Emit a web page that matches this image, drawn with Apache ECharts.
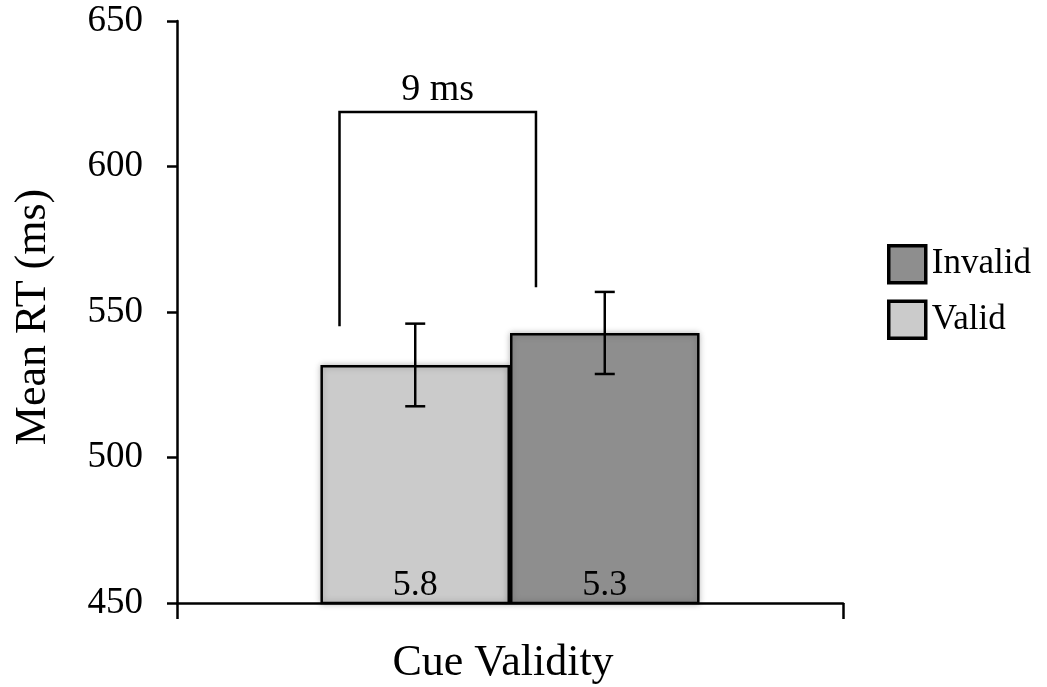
<!DOCTYPE html>
<html>
<head>
<meta charset="utf-8">
<title>Mean RT by Cue Validity</title>
<script src="https://cdn.jsdelivr.net/npm/echarts@6/dist/echarts.min.js"></script>
<style>
  html, body { margin: 0; padding: 0; background: #fff; }
  #chart { width: 1047px; height: 687px; }
</style>
</head>
<body>
<div id="chart"></div>
<script>
// Data
const categories = ['Cue Validity'];
const seriesNames = ['Valid', 'Invalid'];
const meanRT = [531.8, 542.8];        // mean reaction time (ms)
const stdError = [14.2, 14.1];        // error bar half-length (ms)
const errorRates = ['5.8', '5.3'];    // printed at the foot of each bar
const yTicks = [450, 500, 550, 600, 650];
// comparison bracket: left leg bottom, top, right leg bottom (ms)
const bracket = [545.1, 618.7, 558.5];
const bracketLabel = '9 ms';

const FONT = '"Liberation Serif", "Times New Roman", serif';
const BAR_FRAC = 0.2846;              // bar width as a fraction of the category band
const colors = { Valid: '#cbcbcb', Invalid: '#8e8e8e' };

const chart = echarts.init(document.getElementById('chart'), null, { renderer: 'canvas' });

function barSeries(i) {
  const name = seriesNames[i];
  return {
    name: name,
    type: 'bar',
    data: [meanRT[i]],
    barWidth: (BAR_FRAC * 100) + '%',
    barGap: '0%',
    itemStyle: {
      color: colors[name],
      borderColor: '#000',
      borderWidth: 2.5,
      shadowColor: 'rgba(0,0,0,0.25)',
      shadowBlur: 6
    },
    label: {
      show: true,
      position: 'insideBottom',
      distance: 1,
      formatter: () => errorRates[i],
      fontFamily: FONT,
      fontSize: 36,
      color: '#000'
    },
    z: 2
  };
}

function errorSeries(i) {
  const side = i === 0 ? -0.5 : 0.5;
  return {
    type: 'custom',
    name: seriesNames[i] + ' error',
    data: [[0, meanRT[i], stdError[i]]],
    encode: { x: 0, y: 1 },
    z: 5,
    renderItem: function (params, api) {
      const band = api.size([1, 0])[0];
      const cx = api.coord([api.value(0), api.value(1)])[0] + side * BAR_FRAC * band;
      const hi = api.coord([api.value(0), api.value(1) + api.value(2)])[1];
      const lo = api.coord([api.value(0), api.value(1) - api.value(2)])[1];
      const cap = 10;
      const style = { stroke: '#000', lineWidth: 2.5, fill: null };
      return {
        type: 'group',
        children: [
          { type: 'line', shape: { x1: cx, y1: hi, x2: cx, y2: lo }, style: style },
          { type: 'line', shape: { x1: cx - cap, y1: hi, x2: cx + cap, y2: hi }, style: style },
          { type: 'line', shape: { x1: cx - cap, y1: lo, x2: cx + cap, y2: lo }, style: style }
        ]
      };
    }
  };
}

const bracketSeries = {
  type: 'custom',
  name: 'bracket',
  data: [[0, bracket[0], bracket[1], bracket[2]]],
  encode: { x: 0, y: [1, 2, 3] },
  z: 5,
  renderItem: function (params, api) {
    const band = api.size([1, 0])[0];
    const c = api.coord([api.value(0), api.value(2)]);
    const xl = c[0] - 0.256 * band;
    const xr = c[0] + 0.039 * band;
    const yTop = c[1];
    const yl = api.coord([api.value(0), api.value(1)])[1];
    const yr = api.coord([api.value(0), api.value(3)])[1];
    return {
      type: 'group',
      children: [
        {
          type: 'polyline',
          shape: { points: [[xl, yl], [xl, yTop], [xr, yTop], [xr, yr]] },
          style: { stroke: '#000', lineWidth: 2.5, fill: null }
        },
        {
          type: 'text',
          style: {
            text: bracketLabel,
            x: (xl + xr) / 2,
            y: yTop - 3,
            align: 'center',
            verticalAlign: 'bottom',
            font: '38px ' + FONT,
            fill: '#000'
          }
        }
      ]
    };
  }
};

const option = {
  backgroundColor: '#fff',
  animation: false,
  grid: { left: 177, right: 204, top: 21, bottom: 84, containLabel: false, outerBoundsMode: 'none' },
  legend: {
    data: ['Invalid', 'Valid'],
    orient: 'vertical',
    left: 882,
    top: 239,
    itemWidth: 37,
    itemHeight: 37,
    itemGap: 15,
    icon: 'rect',
    itemStyle: { borderColor: '#000', borderWidth: 3.5 },
    textStyle: { fontFamily: FONT, fontSize: 35, color: '#000', padding: [0, 0, 0, 1] }
  },
  xAxis: {
    type: 'category',
    data: categories,
    axisLine: { lineStyle: { color: '#000', width: 2.5 } },
    axisTick: { show: true, length: 16, lineStyle: { color: '#000', width: 2.5 } },
    axisLabel: { fontFamily: FONT, fontSize: 44, color: '#000', margin: 38, padding: [0, 14, 0, 0] }
  },
  yAxis: {
    type: 'value',
    min: yTicks[0],
    max: yTicks[yTicks.length - 1],
    interval: yTicks[1] - yTicks[0],
    name: 'Mean RT (ms)',
    nameLocation: 'middle',
    nameGap: 122,
    nameTextStyle: { fontFamily: FONT, fontSize: 44, color: '#000', padding: [0, 10, 0, 0] },
    axisLine: { show: true, lineStyle: { color: '#000', width: 2.5 } },
    axisTick: { show: true, length: 10, lineStyle: { color: '#000', width: 2.5 } },
    axisLabel: { fontFamily: FONT, fontSize: 37, color: '#000', margin: 34 },
    splitLine: { show: false }
  },
  series: [barSeries(0), barSeries(1), errorSeries(0), errorSeries(1), bracketSeries]
};

chart.setOption(option);
</script>
</body>
</html>
